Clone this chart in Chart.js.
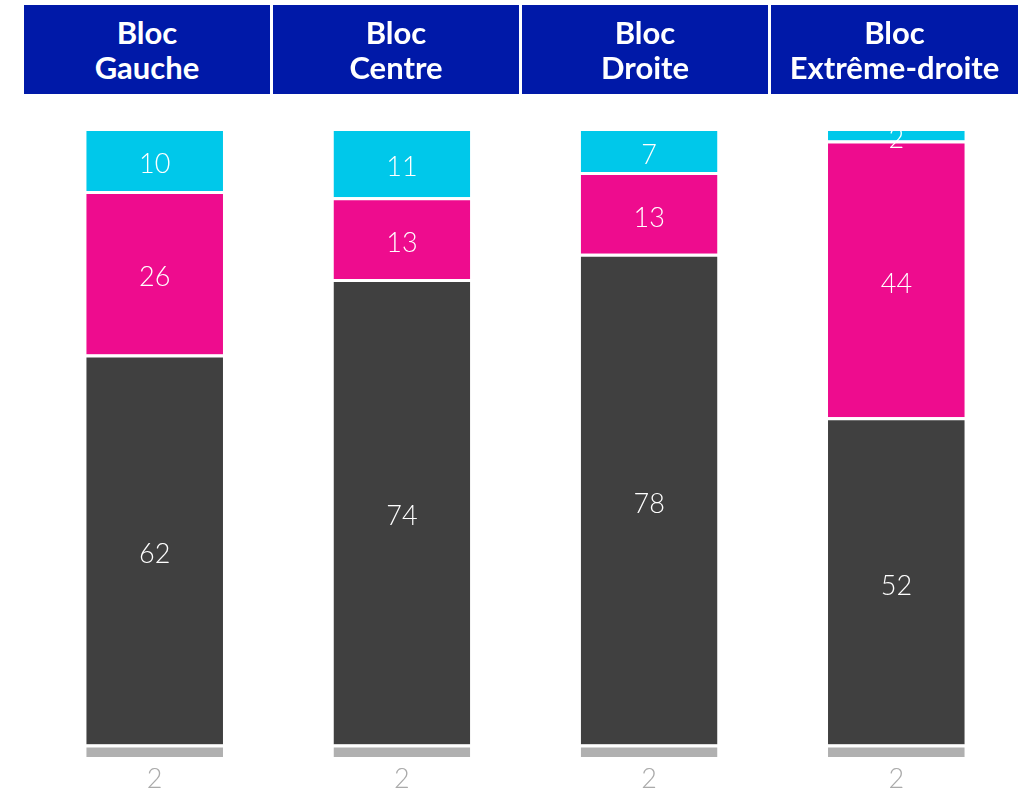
<!DOCTYPE html>
<html>
<head>
<meta charset="utf-8">
<script src="https://cdn.jsdelivr.net/npm/chart.js@4"></script>
<style>
  body { margin: 0; background: #fff; }
  #wrap { position: relative; width: 1025px; height: 791px; }
  .head {
    position: absolute; top: 5px; height: 89px; background: #0019a8;
    color: #fff; font-family: Lato, sans-serif; font-weight: bold; font-size: 31px;
    line-height: 35px; text-align: center; display: flex; align-items: center; justify-content: center;
  }
</style>
</head>
<body>
<div id="wrap">
  <canvas id="chart" width="1025" height="791"></canvas>
</div>
<script>
// categories and series (percent)
var categories = ['Bloc\nGauche', 'Bloc\nCentre', 'Bloc\nDroite', 'Bloc\nExtrême-droite'];
var seriesGrey = [2, 2, 2, 2];
var seriesDark = [62, 74, 78, 52];
var seriesPink = [26, 13, 13, 44];
var seriesCyan = [10, 11, 7, 2];

var seriesColors = ['#b0b0b0', '#404040', '#ee0c8e', '#00c8ea'];

// header boxes
var headLefts = [24, 273, 522, 771];
var wrap = document.getElementById('wrap');
categories.forEach(function (cat, i) {
    var d = document.createElement('div');
    d.className = 'head';
    d.style.left = headLefts[i] + 'px';
    d.style.width = (i === 3 ? 247 : 246) + 'px';
    d.innerHTML = cat.replace('\n', '<br>');
    wrap.appendChild(d);
});

var labelPlugin = {
    id: 'segLabels',
    afterDatasetsDraw: function (chart) {
        var ctx = chart.ctx;
        ctx.save();
        ctx.font = '300 27px Lato, sans-serif';
        ctx.textAlign = 'center';
        ctx.textBaseline = 'middle';
        chart.data.datasets.forEach(function (ds, di) {
            var meta = chart.getDatasetMeta(di);
            meta.data.forEach(function (bar, i) {
                var v = ds.data[i];
                if (di === 0) {
                    ctx.fillStyle = '#aaaaaa';
                    ctx.fillText(v, bar.x, bar.base + 22);
                } else {
                    ctx.fillStyle = '#ffffff';
                    ctx.fillText(v, bar.x, (bar.y + bar.base) / 2 + 5);
                }
            });
        });
        ctx.restore();
    }
};

var ctx = document.getElementById('chart').getContext('2d');
var chart = new Chart(ctx, {
    type: 'bar',
    data: {
        labels: categories,
        datasets: [seriesGrey, seriesDark, seriesPink, seriesCyan].map(function (data, i) {
            return {
                data: data,
                backgroundColor: seriesColors[i],
                borderColor: '#ffffff',
                borderWidth: { top: 3, bottom: 0, left: 0, right: 0 },
                borderSkipped: false,
                categoryPercentage: 1,
                barPercentage: 0.553
            };
        })
    },
    options: {
        responsive: false,
        animation: false,
        layout: { padding: { top: 128, bottom: 34, left: 31, right: 5 } },
        scales: {
            x: { stacked: true, display: false },
            y: { stacked: true, display: false, min: 0, max: 100 }
        },
        plugins: {
            legend: { display: false },
            tooltip: { enabled: false }
        }
    },
    plugins: [labelPlugin]
});
</script>
</body>
</html>
